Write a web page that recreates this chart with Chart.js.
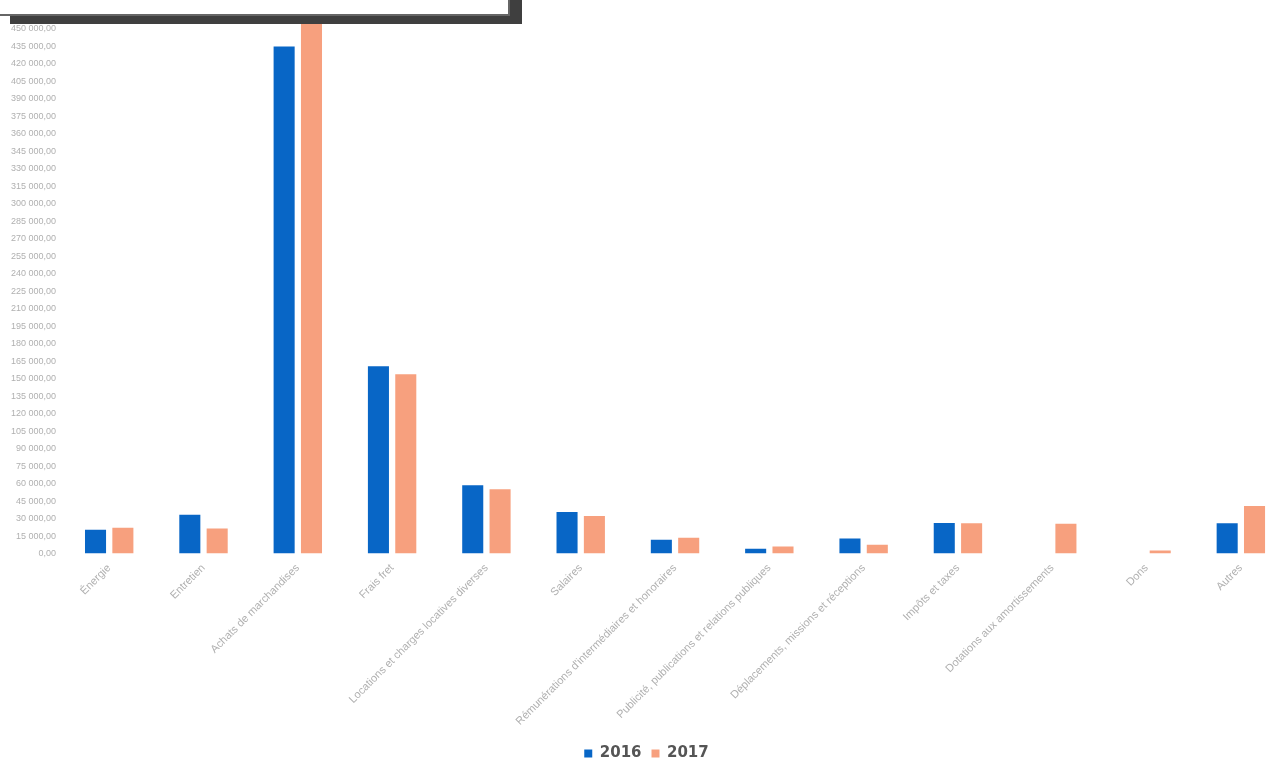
<!DOCTYPE html>
<html>
<head>
<meta charset="utf-8">
<script src="https://cdn.jsdelivr.net/npm/chart.js@4.4.1/dist/chart.umd.min.js"></script>
<style>
  html, body { margin: 0; padding: 0; overflow: hidden; background: #fff; }
  #zone { position: absolute; left: 0; top: 0; width: 1288px; height: 771px; }
  #cadre {
    position: absolute; left: -2px; top: -10px; width: 508px; height: 22px;
    background: #fff; border: 2px solid #666; box-shadow: 12px 8px 0 #3f3f3f;
  }
</style>
</head>
<body>
<div id="zone"><canvas id="grafico"></canvas></div>
<div id="cadre"></div>
<script>
// postes de dépenses
const categories = [
  "Énergie",
  "Entretien",
  "Achats de marchandises",
  "Frais fret",
  "Locations et charges locatives diverses",
  "Salaires",
  "Rémunérations d'intermédiaires et honoraires",
  "Publicité, publications et relations publiques",
  "Déplacements, missions et réceptions",
  "Impôts et taxes",
  "Dotations aux amortissements",
  "Dons",
  "Autres"
];

const valeurs2016 = [20400, 33200, 435000, 160600, 58600, 35700, 11900, 4000, 13000, 26300, 0, 0, 26000];
const valeurs2017 = [22100, 21500, 462000, 153800, 55200, 32300, 13600, 6000, 7500, 26000, 25500, 2500, 40800];

const annees = ["2016", "2017"];
const couleurs = ["#0866c6", "#f7a07e"];

function formaterMontant(v) {
  const entier = Math.round(v).toString().replace(/\B(?=(\d{3})+(?!\d))/g, " ");
  return entier + ",00";
}

const ctx = document.getElementById('grafico').getContext('2d');
const grafico = new Chart(ctx, {
  type: 'bar',
  data: {
    labels: categories,
    datasets: [
      { label: annees[0], data: valeurs2016, backgroundColor: couleurs[0] },
      { label: annees[1], data: valeurs2017, backgroundColor: couleurs[1] }
    ]
  },
  options: {
    responsive: true,
    maintainAspectRatio: false,
    animation: false,
    categoryPercentage: 0.58,
    barPercentage: 0.77,
    layout: { padding: { top: 0, left: 5, right: 0, bottom: 0 } },
    scales: {
      x: {
        grid: { display: false, drawTicks: false },
        border: { display: false },
        ticks: {
          color: '#b0b0b0',
          font: { family: 'Liberation Sans', size: 11 },
          minRotation: 45,
          maxRotation: 45,
          autoSkip: false,
          padding: 8
        }
      },
      y: {
        min: 0,
        max: 465000,
        grid: { display: false, drawTicks: false },
        border: { display: false },
        ticks: {
          stepSize: 15000,
          autoSkip: false,
          color: '#b0b0b0',
          font: { family: 'Liberation Sans', size: 9 },
          padding: 6,
          callback: v => formaterMontant(v)
        }
      }
    },
    plugins: {
      tooltip: { enabled: false },
      legend: {
        position: 'bottom',
        labels: {
          color: '#555',
          boxWidth: 8,
          boxHeight: 8,
          padding: 10,
          font: { family: 'DejaVu Sans', size: 15, weight: 'bold' }
        }
      }
    }
  }
});
</script>
</body>
</html>
